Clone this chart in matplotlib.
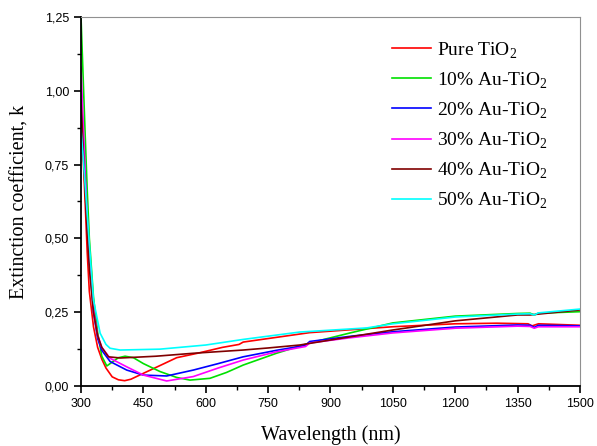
import matplotlib
matplotlib.use('Agg')
import matplotlib.pyplot as plt
from matplotlib.ticker import MultipleLocator, FuncFormatter

# values (wavelength in nm, k)
wl_pure = [300, 305, 310, 315, 320, 330, 340, 350, 360, 375, 390, 405, 420, 450, 500, 530, 580, 640,
           680, 690, 750, 850, 950, 1050, 1200, 1300, 1375, 1385, 1400, 1500]
k_pure = [0.97, 0.78, 0.62, 0.45, 0.32, 0.2, 0.13, 0.09, 0.06, 0.03, 0.02, 0.017, 0.022, 0.042, 0.075,
          0.095, 0.11, 0.13, 0.14, 0.148, 0.16, 0.18, 0.19, 0.2, 0.21, 0.212, 0.21, 0.203, 0.21, 0.205]

wl_10 = [300, 305, 310, 315, 320, 330, 340, 350, 362, 375, 390, 406, 426, 450, 490, 530, 562, 610, 650,
         690, 770, 850, 950, 1050, 1200, 1350, 1380, 1390, 1400, 1500]
k_10 = [1.25, 1.05, 0.85, 0.66, 0.5, 0.3, 0.18, 0.1, 0.067, 0.08, 0.095, 0.1, 0.095, 0.075, 0.048,
        0.028, 0.019, 0.025, 0.045, 0.07, 0.11, 0.145, 0.18, 0.213, 0.236, 0.245, 0.246, 0.24, 0.246, 0.251]

wl_20 = [300, 305, 310, 315, 320, 330, 340, 350, 370, 410, 450, 506, 570, 630, 690, 770, 840, 850, 950,
         1050, 1200, 1350, 1380, 1390, 1400, 1500]
k_20 = [1.01, 0.85, 0.7, 0.55, 0.42, 0.25, 0.16, 0.12, 0.082, 0.053, 0.036, 0.033, 0.053, 0.075, 0.098,
        0.12, 0.137, 0.15, 0.168, 0.183, 0.199, 0.206, 0.205, 0.198, 0.205, 0.203]

wl_30 = [300, 305, 310, 315, 320, 330, 340, 350, 370, 410, 450, 506, 570, 630, 690, 770, 840, 850, 950,
         1050, 1200, 1350, 1380, 1390, 1400, 1500]
k_30 = [1.08, 0.9, 0.72, 0.57, 0.44, 0.26, 0.17, 0.13, 0.093, 0.064, 0.036, 0.016, 0.031, 0.06, 0.087,
        0.115, 0.133, 0.145, 0.163, 0.179, 0.195, 0.202, 0.201, 0.195, 0.2, 0.2]

wl_40 = [300, 305, 310, 315, 320, 330, 340, 350, 366, 395, 480, 570, 690, 750, 826, 900, 1050, 1200,
         1350, 1380, 1500]
k_40 = [0.97, 0.81, 0.66, 0.52, 0.4, 0.25, 0.17, 0.13, 0.098, 0.094, 0.1, 0.11, 0.121, 0.128, 0.138,
        0.155, 0.189, 0.22, 0.24, 0.24, 0.257]

wl_50 = [300, 305, 310, 315, 320, 330, 346, 360, 370, 394, 490, 600, 690, 826, 987, 1050, 1200, 1350,
         1380, 1390, 1400, 1500]
k_50 = [0.87, 0.78, 0.68, 0.58, 0.48, 0.29, 0.178, 0.14, 0.127, 0.121, 0.124, 0.138, 0.157, 0.182,
        0.196, 0.21, 0.233, 0.243, 0.244, 0.24, 0.247, 0.26]

labels = ['Pure TiO$_\\mathregular{2}$', '10% Au-TiO$_\\mathregular{2}$', '20% Au-TiO$_\\mathregular{2}$',
          '30% Au-TiO$_\\mathregular{2}$', '40% Au-TiO$_\\mathregular{2}$', '50% Au-TiO$_\\mathregular{2}$']
colors = ['#ff0000', '#00e000', '#0000ff', '#ff00ff', '#800000', '#00ffff']

plt.rcParams['mathtext.fontset'] = 'custom'
plt.rcParams['mathtext.rm'] = 'Liberation Serif'

fig = plt.figure(figsize=(5.97, 4.46), dpi=100)
ax = fig.add_axes([0.1357, 0.1352, 0.8358, 0.8262])

series = [(wl_pure, k_pure), (wl_10, k_10), (wl_20, k_20), (wl_30, k_30), (wl_40, k_40), (wl_50, k_50)]
for (x, y), lab, c in zip(series, labels, colors):
    ax.plot(x, y, color=c, lw=1.2, label=lab)

ax.set_xlim(300, 1500)
ax.set_ylim(0, 1.25)
ax.xaxis.set_major_locator(MultipleLocator(150))
ax.xaxis.set_minor_locator(MultipleLocator(75))
ax.yaxis.set_major_locator(MultipleLocator(0.25))
ax.yaxis.set_minor_locator(MultipleLocator(0.125))
ax.yaxis.set_major_formatter(FuncFormatter(lambda v, p: f'{v:.2f}'.replace('.', ',')))
ax.tick_params(which='major', direction='out', length=5, width=1.2, labelsize=9,
               top=False, right=False)
ax.tick_params(which='minor', direction='out', length=3, width=1.0, top=False, right=False)
for t in ax.get_xticklabels() + ax.get_yticklabels():
    t.set_fontfamily('Liberation Sans')

ax.spines['left'].set_linewidth(1.3)
ax.spines['bottom'].set_linewidth(1.3)
ax.spines['top'].set_color('#909090')
ax.spines['right'].set_color('#909090')

ax.set_xlabel('Wavelength (nm)', family='Liberation Serif', fontsize=14.5, labelpad=11)
ax.set_ylabel('Extinction coefficient, k', family='Liberation Serif', fontsize=14.5, labelpad=11)

ax.legend(loc='upper right', frameon=False, prop={'family': 'Liberation Serif', 'size': 14},
          handlelength=2.0, handletextpad=0.3, labelspacing=0.5, bbox_to_anchor=(0.97, 0.985))

fig.savefig('out.png', dpi=100)
